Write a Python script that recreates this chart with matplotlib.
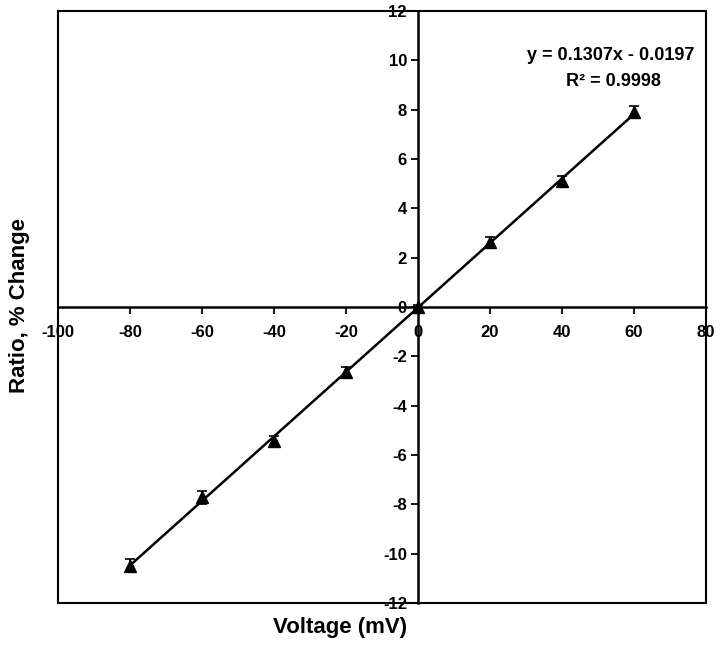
import matplotlib.pyplot as plt
from matplotlib.patches import Rectangle
import numpy as np

plt.rcParams['font.family'] = ['Liberation Sans', 'DejaVu Sans']
plt.rcParams['font.weight'] = 'bold'
plt.rcParams['axes.unicode_minus'] = False

voltage = [-80, -60, -40, -20, 0, 20, 40, 60]
ratio = [-10.48, -7.72, -5.42, -2.62, 0.0, 2.64, 5.12, 7.9]
ratio_err = [0.25, 0.25, 0.2, 0.2, 0.1, 0.2, 0.2, 0.25]
slope, intercept = 0.1307, -0.0197
x_ticks = [-100, -80, -60, -40, -20, 0, 20, 40, 60, 80]
y_ticks = [-12, -10, -8, -6, -4, -2, 0, 2, 4, 6, 8, 10, 12]

fig = plt.figure(figsize=(7.2, 6.52), dpi=100)
ax = fig.add_axes([58 / 720, 49 / 652, 648 / 720, 592 / 652])

fit_x = np.array([voltage[0], voltage[-1]])
ax.plot(fit_x, slope * fit_x + intercept, color='black', lw=1.8, zorder=2)
ax.errorbar(voltage, ratio, yerr=ratio_err, fmt='^', color='black',
            ms=8, capsize=3.5, elinewidth=1.2, capthick=1.2, zorder=3)

ax.set_xlim(-100, 80)
ax.set_ylim(-12, 12)
ax.set_xticks(x_ticks)
ax.set_yticks(y_ticks)

ax.spines['left'].set_position(('data', 0))
ax.spines['bottom'].set_position(('data', 0))
ax.spines['top'].set_visible(False)
ax.spines['right'].set_visible(False)
for s in ('left', 'bottom'):
    ax.spines[s].set_linewidth(1.8)
ax.add_patch(Rectangle((0, 0), 1, 1, transform=ax.transAxes, fill=False,
                       lw=1.5, edgecolor='black', clip_on=False))

ax.tick_params(direction='out', length=5, width=1.3, labelsize=12)
ax.tick_params(axis='x', pad=8)
ax.tick_params(axis='y', pad=3)
for lab in ax.get_xticklabels() + ax.get_yticklabels():
    lab.set_fontweight('bold')

ax.text(53.6, 10.2, 'y = 0.1307x - 0.0197', ha='center', va='center',
        fontsize=13, fontweight='bold')
ax.text(54.4, 9.15, 'R² = 0.9998', ha='center', va='center',
        fontsize=13, fontweight='bold')

fig.text(340 / 720, 1 - 628 / 652, 'Voltage (mV)', ha='center', va='center',
         fontsize=16, fontweight='bold')
fig.text(20 / 720, 1 - 305 / 652, 'Ratio, % Change', ha='center', va='center',
         rotation=90, fontsize=16, fontweight='bold')

fig.savefig('out.png', dpi=100)
